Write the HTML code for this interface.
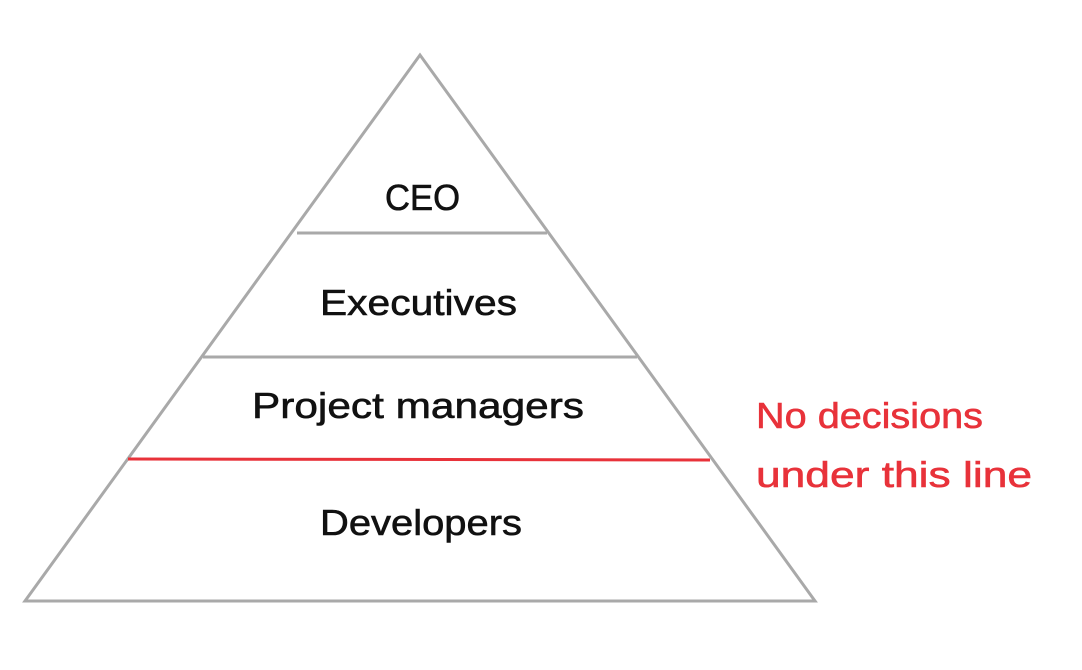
<!DOCTYPE html>
<html><head><style>html,body{margin:0;padding:0;background:#fff;}svg{display:block}</style></head>
<body>
<svg width="1082" height="670" viewBox="0 0 1082 670" xmlns="http://www.w3.org/2000/svg">
<g fill="none" stroke="#a9a9a9" stroke-width="3">
<polygon points="420,55 25,601 815,601"/>
<line x1="297" y1="233" x2="547" y2="233"/>
<line x1="203" y1="357" x2="637" y2="357"/>
</g>
<line x1="128" y1="459" x2="710" y2="460" stroke="#e8323a" stroke-width="3"/>
<g font-family="'Comic Sans MS','Liberation Sans',sans-serif" font-size="36" fill="#111" stroke="#111" stroke-width="0.6">
<text x="385" y="210" textLength="75" lengthAdjust="spacingAndGlyphs">CEO</text>
<text x="320" y="315" textLength="197" lengthAdjust="spacingAndGlyphs">Executives</text>
<text x="252" y="418" textLength="332" lengthAdjust="spacingAndGlyphs">Project managers</text>
<text x="320" y="535" textLength="202" lengthAdjust="spacingAndGlyphs">Developers</text>
</g>
<g font-family="'Comic Sans MS','Liberation Sans',sans-serif" font-size="36" fill="#e8323a" stroke="#e8323a" stroke-width="0.6">
<text x="756" y="428" textLength="227" lengthAdjust="spacingAndGlyphs">No decisions</text>
<text x="756" y="487" textLength="276" lengthAdjust="spacingAndGlyphs">under this line</text>
</g>
</svg>
</body></html>
